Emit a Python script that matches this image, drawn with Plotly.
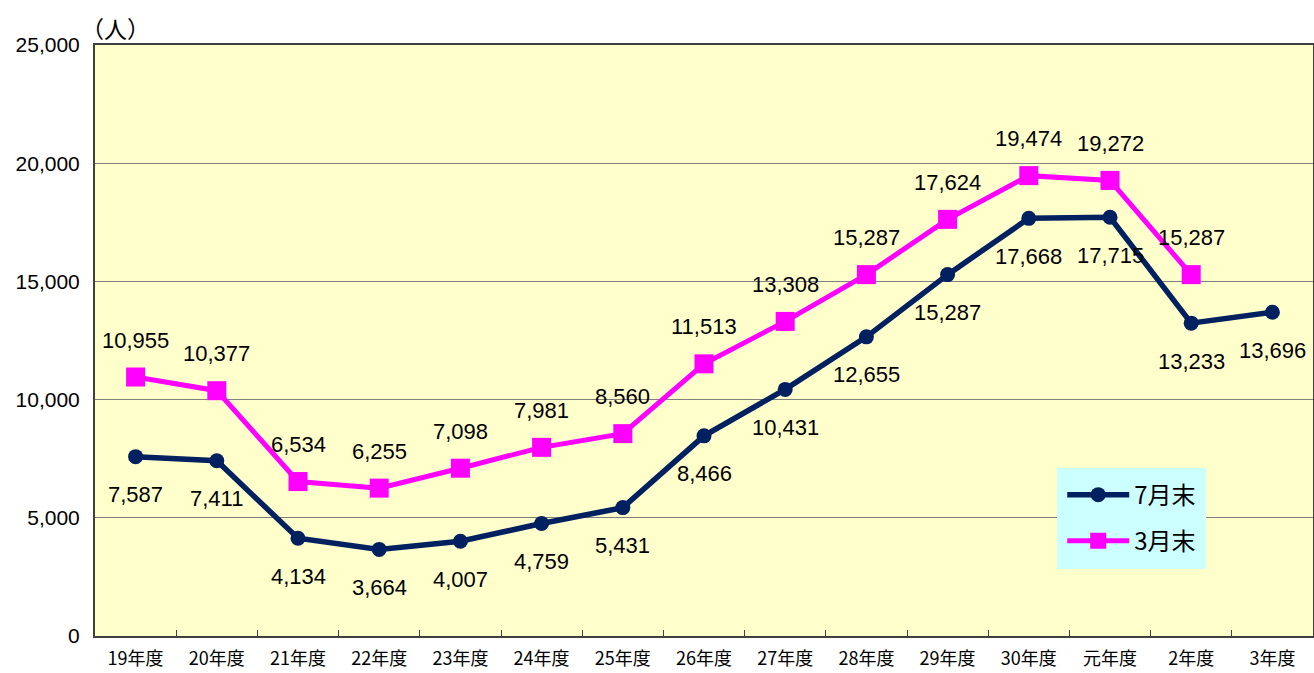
import plotly.graph_objects as go

NENDO = ["19年度", "20年度", "21年度", "22年度", "23年度", "24年度", "25年度",
         "26年度", "27年度", "28年度", "29年度", "30年度", "元年度", "2年度", "3年度"]
JULY = [7587, 7411, 4134, 3664, 4007, 4759, 5431, 8466, 10431, 12655,
        15287, 17668, 17715, 13233, 13696]
MARCH = [10955, 10377, 6534, 6255, 7098, 7981, 8560, 11513, 13308, 15287,
         17624, 19474, 19272, 15287, None]

FONT = "Noto Sans CJK JP, Noto Sans, sans-serif"
NUMFONT = "Liberation Sans, Arial, sans-serif"
NAVY = "#002060"
MAGENTA = "#FF00FF"
LEGEND_BG = "#CCFFFF"

fig = go.Figure()
fig.add_trace(go.Scatter(
    x=NENDO, y=JULY, name="7月末", mode="lines+markers",
    line=dict(color=NAVY, width=5.5),
    marker=dict(symbol="circle", size=15, color=NAVY),
    legendgroup="a", hoverinfo="skip",
))
fig.add_trace(go.Scatter(
    x=NENDO, y=MARCH, name="3月末", mode="lines+markers",
    line=dict(color=MAGENTA, width=5),
    marker=dict(symbol="square", size=19, color=MAGENTA),
    legendgroup="b", hoverinfo="skip",
))

# データラベル（7月末は下、3月末は上）
for x, v in zip(NENDO, JULY):
    fig.add_annotation(x=x, y=v, text=f"{v:,}", showarrow=False, yshift=-38,
                       font=dict(size=22, color="black", family=NUMFONT))
for x, v in zip(NENDO, MARCH):
    if v is None:
        continue
    fig.add_annotation(x=x, y=v, text=f"{v:,}", showarrow=False, yshift=37,
                       font=dict(size=22, color="black", family=NUMFONT))

fig.add_annotation(xref="paper", yref="paper", x=0, y=1, xanchor="left",
                   yanchor="bottom", text="（人）", showarrow=False, xshift=-16,
                   yshift=-2, font=dict(size=23, color="black", family=FONT))

fig.update_layout(
    width=1314, height=673,
    margin=dict(l=95, r=1, t=45, b=37),
    paper_bgcolor="white", plot_bgcolor="#FFFFCC",
    font=dict(family=FONT, color="black"),
    showlegend=True,
    legend=dict(x=0.79, y=0.285, xanchor="left", yanchor="top",
                bgcolor=LEGEND_BG, bordercolor=LEGEND_BG, borderwidth=5,
                itemwidth=62, tracegroupgap=12, traceorder="grouped",
                font=dict(size=24, family=FONT)),
)
fig.update_xaxes(
    type="category", tickson="boundaries", ticks="inside", ticklen=6,
    tickcolor="#404040", showline=True, linecolor="#404040", linewidth=2,
    mirror=True, showgrid=False, tickfont=dict(size=18, family=FONT),
    ticklabelstandoff=5, range=[-0.5, 14.5], automargin=False,
)
fig.update_yaxes(
    range=[0, 25000], dtick=5000, tickformat=",", ticks="outside", ticklen=9,
    tickcolor="rgba(0,0,0,0)", showline=True, linecolor="#404040", linewidth=2,
    mirror=True, showgrid=True, gridcolor="#808080", gridwidth=1,
    zeroline=False, tickfont=dict(size=21, family="Liberation Sans, Arial"),
    automargin=False,
)

# ページの余白を消して 1314x673 にぴったり収める
fig.write_html("out.html", config={"displayModeBar": False},
               post_script="document.body.style.margin='0';"
                           "document.body.style.overflow='hidden';")
